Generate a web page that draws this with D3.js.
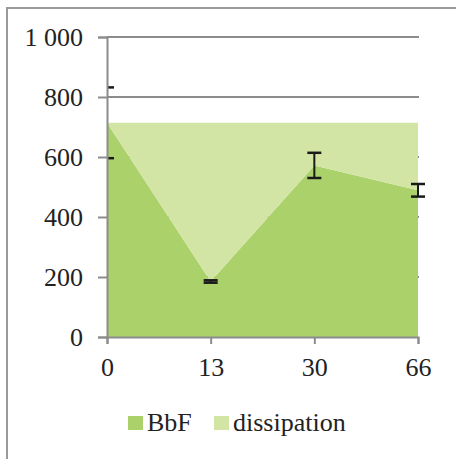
<!DOCTYPE html>
<html>
<head>
<meta charset="utf-8">
<script src="https://cdn.jsdelivr.net/npm/d3@7"></script>
<style>
  body { margin: 0; background: #fff; }
  text { font-family: "Liberation Serif", "Times New Roman", serif; fill: #222; }
</style>
</head>
<body>
<div id="chart"></div>
<script>
// values
var days = ["0", "13", "30", "66"]
var bbf = [714, 185, 572, 489]
var dissipation = [0, 529, 142, 225]
var bbfErr = [118, 4, 42, 21]
var yTicks = [0, 200, 400, 600, 800, 1000]
var seriesNames = ["BbF", "dissipation"]
var colors = ["#abd16b", "#d3e5a4"]

var W = 456, H = 459
var margin = {top: 37, right: 38, bottom: 122, left: 107}
var width = W - margin.left - margin.right
var height = H - margin.top - margin.bottom

var svg = d3.select("#chart").append("svg")
  .attr("width", W).attr("height", H)

// outer frame (only top and left edges are in view)
svg.append("path")
  .attr("d", "M7,459 L7,8 L456,8")
  .attr("fill", "none").attr("stroke", "#9a9a9a").attr("stroke-width", 2)

var g = svg.append("g")
  .attr("transform", "translate(" + margin.left + "," + margin.top + ")")

var x = d3.scalePoint().domain(days).range([0, width])
var y = d3.scaleLinear().domain([0, 1000]).range([height, 0])

// gridlines
g.append("g").selectAll("line").data(yTicks.slice(1)).join("line")
  .attr("x1", 0).attr("x2", width + 1)
  .attr("y1", d => y(d)).attr("y2", d => y(d))
  .attr("stroke", "#8c8c8c").attr("stroke-width", 2)

var table = days.map((d, i) => ({day: d, BbF: bbf[i], dissipation: dissipation[i]}))
var stacked = d3.stack().keys(seriesNames)(table)

var area = d3.area()
  .x(d => x(d.data.day))
  .y0(d => y(d[0]))
  .y1(d => y(d[1]))

g.selectAll(".layer").data(stacked).join("path")
  .attr("class", "layer")
  .attr("fill", (d, i) => colors[i])
  .attr("d", area)

// error bars, clipped to the plot area
svg.append("clipPath").attr("id", "plotclip")
  .append("rect").attr("x", 0).attr("y", -5).attr("width", width + 10).attr("height", height + 10)

var eb = g.append("g").attr("clip-path", "url(#plotclip)")
  .selectAll("g").data(days).join("g")
eb.append("line")
  .attr("x1", d => x(d)).attr("x2", d => x(d))
  .attr("y1", (d, i) => y(bbf[i] + bbfErr[i])).attr("y2", (d, i) => y(bbf[i] - bbfErr[i]))
  .attr("stroke", "#1a1a1a").attr("stroke-width", 2)
eb.selectAll(".cap").data((d, i) => [[d, bbf[i] + bbfErr[i]], [d, bbf[i] - bbfErr[i]]]).join("line")
  .attr("class", "cap")
  .attr("x1", d => x(d[0]) - 7).attr("x2", d => x(d[0]) + 7)
  .attr("y1", d => y(d[1])).attr("y2", d => y(d[1]))
  .attr("stroke", "#1a1a1a").attr("stroke-width", 2.5)

// axes
var yAxis = g.append("g")
  .call(d3.axisLeft(y).tickValues(yTicks).tickSize(9).tickPadding(15)
    .tickFormat(d => d3.format(",")(d).replace(",", " ")))
var xAxis = g.append("g")
  .attr("transform", "translate(0," + height + ")")
  .call(d3.axisBottom(x).tickSize(7).tickPadding(14))

;[yAxis, xAxis].forEach(a => {
  a.select(".domain").attr("stroke", "#8c8c8c").attr("stroke-width", 2)
  a.selectAll(".tick line").attr("stroke", "#8c8c8c").attr("stroke-width", 2)
  a.selectAll("text").attr("font-family", "Liberation Serif").attr("font-size", 26).attr("fill", "#222")
})

// legend
var legend = svg.append("g").attr("transform", "translate(128,416)")
var lx = [0, 86]
seriesNames.forEach((n, i) => {
  legend.append("rect").attr("x", lx[i]).attr("y", 0).attr("width", 15).attr("height", 14)
    .attr("fill", colors[i])
  legend.append("text").attr("x", lx[i] + 19).attr("y", 15)
    .attr("font-size", 26).text(n)
})
</script>
</body>
</html>
